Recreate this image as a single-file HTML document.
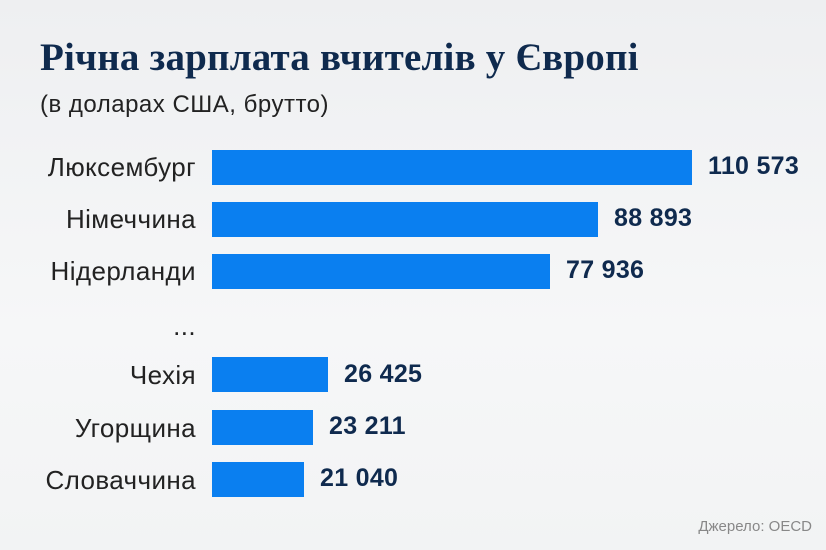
<!DOCTYPE html>
<html><head><meta charset="utf-8"><style>
body{margin:0;width:826px;height:550px;overflow:hidden;background:linear-gradient(#eeeff1,#f6f7f8 60%,#f2f3f4);font-family:"Liberation Sans","DejaVu Sans",sans-serif;position:relative}
.t{position:absolute;left:40px;top:35px;font-family:"Liberation Serif","DejaVu Serif",serif;font-size:39px;letter-spacing:0.2px;font-weight:bold;color:#0f2a4e;white-space:nowrap}
.s{position:absolute;left:40px;top:91px;font-size:24px;letter-spacing:0.5px;color:#222;white-space:nowrap}
.l{position:absolute;right:630px;font-size:26px;letter-spacing:0.4px;color:#222;white-space:nowrap;text-align:right}
.b{position:absolute;left:212px;background:#0a7ff0;height:35px}
.v{position:absolute;font-size:25px;letter-spacing:0.3px;font-weight:bold;color:#0f2a4e;white-space:nowrap}
.src{position:absolute;right:14px;top:518px;font-size:15px;color:#888}
</style></head><body>
<div class="t">Річна зарплата вчителів у Європі</div>
<div class="s">(в доларах США, брутто)</div>

<div class="l" style="top:152px">Люксембург</div><div class="b" style="top:150px;width:480px"></div><div class="v" style="left:708px;top:152px">110 573</div>
<div class="l" style="top:204px">Німеччина</div><div class="b" style="top:202px;width:386px"></div><div class="v" style="left:614px;top:204px">88 893</div>
<div class="l" style="top:256px">Нідерланди</div><div class="b" style="top:254px;width:338px"></div><div class="v" style="left:566px;top:256px">77 936</div>
<div class="l" style="top:311px">...</div>
<div class="l" style="top:360px">Чехія</div><div class="b" style="top:357px;width:116px"></div><div class="v" style="left:344px;top:360px">26 425</div>
<div class="l" style="top:413px">Угорщина</div><div class="b" style="top:410px;width:101px"></div><div class="v" style="left:329px;top:412px">23 211</div>
<div class="l" style="top:465px">Словаччина</div><div class="b" style="top:462px;width:92px"></div><div class="v" style="left:320px;top:464px">21 040</div>
<div class="src">Джерело: OECD</div>
</body></html>
